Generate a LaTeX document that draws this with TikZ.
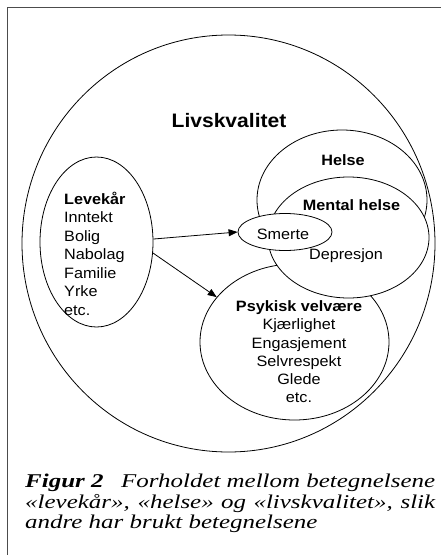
\documentclass[tikz,border=0pt]{standalone}
\usepackage{fontspec}
\setmainfont[FakeStretch=1.28]{Liberation Serif}
\newfontfamily\arialf[FakeStretch=1.08]{Liberation Sans}
\usetikzlibrary{shapes.geometric,arrows.meta}
\begin{document}
\begin{tikzpicture}[x=1pt,y=-1pt,
  ell/.style={ellipse, draw, fill=white, line width=0.8pt, inner sep=0pt},
  lbl/.style={font=\arialf\fontsize{15}{18.5}\selectfont, inner sep=0pt},
  blbl/.style={font=\arialf\bfseries\fontsize{15}{18.5}\selectfont, inner sep=0pt},
  conn/.style={line width=0.8pt, -{Triangle[length=9pt,width=7pt]}},
  frame/.style={line width=1.5pt, draw=black!70}]
\useasboundingbox (0,0) rectangle (440,555);
% frame (only top and left edges visible)
\coordinate (ftr) at (441,7.5);
\coordinate (ftl) at (7.5,7.5);
\coordinate (fbl) at (7.5,556);
\draw[frame] (ftr) -- (ftl) -- (fbl);
% ellipses
\node[ell, minimum width=413pt, minimum height=417pt] (lq) at (228.5,243.5) {};
\node[ell, minimum width=113pt, minimum height=170pt] (lev) at (96.5,242) {};
\node[ell, minimum width=189pt, minimum height=156pt] (psyk) at (294.5,342) {};
\node[ell, minimum width=170pt, minimum height=140pt] (helse) at (342,200) {};
\node[ell, minimum width=161pt, minimum height=121pt] (mental) at (348.5,237.5) {};
\node[ell, minimum width=94pt, minimum height=37pt] (smerte) at (285,232) {};
% texts
\node[blbl, font=\arialf\bfseries\fontsize{19.5}{22}\selectfont, anchor=base] (tlq) at (229,127) {Livskvalitet};
\node[blbl, anchor=base] (thelse) at (343,165) {Helse};
\node[blbl, anchor=base] (tmental) at (351.5,210.5) {Mental helse};
\node[lbl, anchor=base] (tsmerte) at (283,239) {Smerte};
\node[lbl, anchor=base] (tdep) at (346,259.3) {Depresjon};
\node[lbl, align=left, anchor=base west] (tlev) at (64,315)
  {\textbf{Levekår}\\Inntekt\\Bolig\\Nabolag\\Familie\\Yrke\\etc.};
\node[lbl, font=\arialf\fontsize{15}{18.2}\selectfont, align=center, anchor=base] (tpsyk) at (299,402.7)
  {\textbf{Psykisk velvære}\\Kjærlighet\\Engasjement\\Selvrespekt\\Glede\\etc.};
% connectors
\draw[conn] (lev.3) -- (smerte.west);
\draw[conn] (lev.-11) -- (psyk.150);
% caption
\node[anchor=base west, text width=410pt, align=justify, inner sep=0pt,
  font=\itshape\fontsize{19.5}{20.5}\selectfont] (cap) at (25,487.5)
  {\mbox{\textbf{Figur 2}}\hspace{0.9em}Forholdet mellom betegnelsene\linebreak
   «levekår», «helse» og «livskvalitet», slik\linebreak
   andre har brukt betegnelsene};
\end{tikzpicture}
\end{document}
